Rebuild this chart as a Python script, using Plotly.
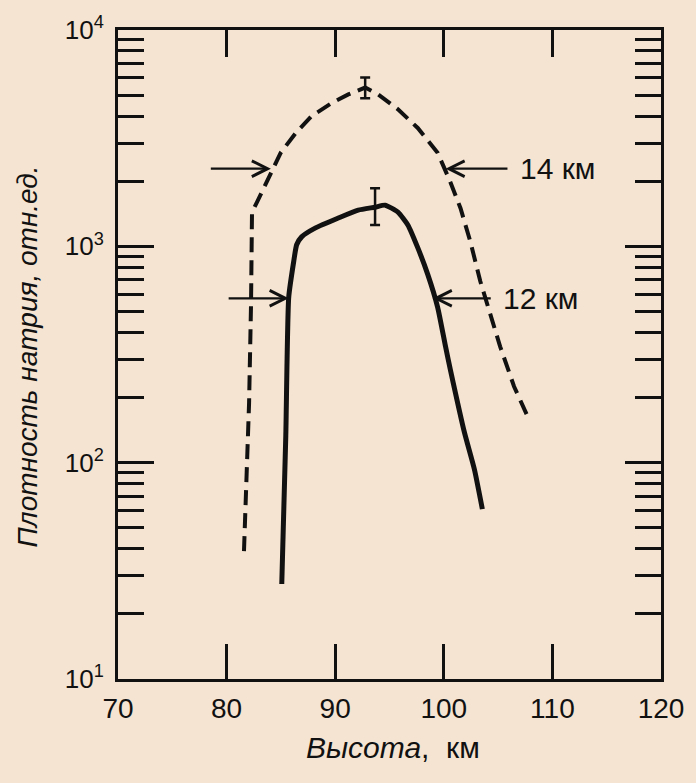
import numpy as np
import plotly.graph_objects as go

# ---- data ----
# dashed profile (14 km layer)
alt_dashed = [81.6, 82.07, 82.25, 82.34, 82.8, 83.89, 84.99, 86.36, 87.82, 89.65, 91.21, 92.76,
              93.95, 95.78, 97.6, 99.43, 100.62, 101.54, 102.45, 103.36, 104.28, 105.19, 106.47, 107.66]
dens_dashed = [39, 189, 541, 1440, 1600, 2080, 2710, 3340, 4000, 4585, 5040, 5420,
               5040, 4300, 3525, 2710, 1974, 1500, 1050, 689, 487, 344, 225, 166]

# solid profile (12 km layer)
alt_solid = [85.08, 85.45, 85.72, 86.18, 86.45, 86.91, 88.19, 90.29, 92.12, 93.67, 94.59, 95.78,
             96.69, 97.6, 98.52, 99.43, 100.16, 100.62, 101.9, 102.82, 103.55]
dens_solid = [27.5, 133, 582, 851, 1017, 1106, 1217, 1352, 1470, 1517, 1550, 1439,
              1256, 986, 742, 524, 344, 267, 138, 93, 61]

# error bars at the peaks
err_alt = [92.76, 93.67]
err_mid = [5420, 1517]
err_hi = [6030, 1854]
err_lo = [4830, 1256]

# layer width arrows
width_labels = ["14 км", "12 км"]
arrow_dens = [2285, 575]
left_tip = [84.08, 85.72]
left_tail = [78.41, 80.05]
right_tip = [100.16, 98.98]
right_tail = [106.0, 104.46]

x_ticks = [70, 80, 90, 100, 110, 120]
y_major = [10, 100, 1000, 10000]
y_major_text = ["10<sup>1</sup>", "10<sup>2</sup>", "10<sup>3</sup>", "10<sup>4</sup>"]
y_minor = [m * 10 ** e for e in range(1, 4) for m in range(2, 10)]

BG = "#F5E4D1"
INK = "#111111"
FONT = "Liberation Sans"

fig = go.Figure()

fig.add_trace(go.Scatter(x=alt_dashed, y=dens_dashed, mode="lines",
                         line=dict(color=INK, width=4, dash="15px,8px"),
                         showlegend=False, hoverinfo="skip"))
fig.add_trace(go.Scatter(x=alt_solid, y=dens_solid, mode="lines",
                         line=dict(color=INK, width=5, shape="spline", smoothing=0.5),
                         showlegend=False, hoverinfo="skip"))
fig.add_trace(go.Scatter(
    x=err_alt, y=err_mid, mode="markers", marker=dict(size=1, color="rgba(0,0,0,0)"),
    error_y=dict(type="data", symmetric=False,
                 array=[h - m for h, m in zip(err_hi, err_mid)],
                 arrayminus=[m - l for l, m in zip(err_lo, err_mid)],
                 color=INK, thickness=2.5, width=5),
    showlegend=False, hoverinfo="skip"))

# invisible traces to register the extra axes
for xa, ya in (("x2", "y"), ("x", "y2"), ("x", "y3"), ("x", "y4")):
    fig.add_trace(go.Scatter(x=[None], y=[None], xaxis=xa, yaxis=ya,
                             showlegend=False, hoverinfo="skip"))

ann = []
for lab, yv, lt, lta, rt, rta in zip(width_labels, arrow_dens, left_tip, left_tail, right_tip, right_tail):
    ly = np.log10(yv)
    for tip, tail in ((lt, lta), (rt, rta)):
        ann.append(dict(x=tip, y=ly, ax=tail, ay=ly, xref="x", yref="y", axref="x", ayref="y",
                        text="", showarrow=True, arrowhead=5, arrowsize=1.4, arrowwidth=2.2,
                        arrowcolor=INK, standoff=0, startstandoff=0))
    ann.append(dict(x=rta, y=ly, xref="x", yref="y", text=lab, showarrow=False,
                    xanchor="left", yanchor="middle", xshift=9,
                    font=dict(family=FONT, size=30, color=INK)))

ann.append(dict(x=0, y=0.497, xref="paper", yref="paper", xshift=-91,
                text="Плотность натрия, отн.ед.", textangle=-90, showarrow=False,
                xanchor="center", yanchor="middle",
                font=dict(family=FONT, size=28, color=INK, style="italic")))
ann.append(dict(x=0.506, y=0, xref="paper", yref="paper", yshift=-68,
                text="<i>Высота</i>,  км", showarrow=False,
                xanchor="center", yanchor="middle",
                font=dict(family=FONT, size=30, color=INK)))

axis_common = dict(showgrid=False, zeroline=False, ticks="inside", tickcolor=INK, tickwidth=2.5)
line_style = dict(showline=True, linecolor=INK, linewidth=3)

fig.update_layout(
    width=696, height=783,
    margin=dict(l=118, r=31, t=23, b=104),
    paper_bgcolor=BG, plot_bgcolor=BG,
    showlegend=False,
    annotations=ann,
    xaxis=dict(range=[70, 120], tickvals=x_ticks, ticklen=35, anchor="y",
               tickfont=dict(family=FONT, size=28, color=INK), ticklabelstandoff=2,
               **line_style, **axis_common),
    xaxis2=dict(range=[70, 120], tickvals=x_ticks, ticklen=27, overlaying="x", side="top",
                showticklabels=False, anchor="y", **line_style, **axis_common),
    yaxis=dict(type="log", range=[1, 4], tickvals=y_major, ticktext=y_major_text, ticklen=36,
               anchor="x", side="left",
               tickfont=dict(family=FONT, size=26, color=INK), ticklabelstandoff=6,
               **line_style, **axis_common),
    yaxis2=dict(type="log", range=[1, 4], tickvals=y_minor, ticklen=26, overlaying="y",
                side="left", anchor="x", showticklabels=False, showline=False, **axis_common),
    yaxis3=dict(type="log", range=[1, 4], tickvals=y_major, ticklen=36, overlaying="y",
                side="right", anchor="x", showticklabels=False, **line_style, **axis_common),
    yaxis4=dict(type="log", range=[1, 4], tickvals=y_minor, ticklen=26, overlaying="y",
                side="right", anchor="x", showticklabels=False, showline=False, **axis_common),
)

fig.write_html("out.html")
